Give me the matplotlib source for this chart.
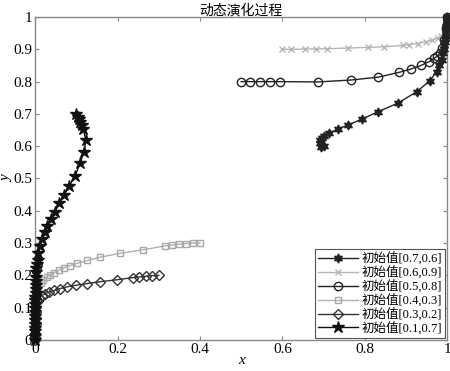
import numpy as np
import matplotlib
matplotlib.use("Agg")
import matplotlib.pyplot as plt

plt.rcParams['font.family'] = ['Liberation Serif', 'Noto Sans CJK SC']

# trajectories, (x, y) pairs
x_07 = [0.700, 0.694, 0.690, 0.692, 0.697, 0.702, 0.714, 0.734, 0.760, 0.793, 0.831, 0.881,
        0.926, 0.958, 0.974, 0.981, 0.986, 0.989, 0.991, 0.993, 0.994, 0.995, 0.996, 0.997,
        0.997, 0.998, 0.998, 0.999, 0.999, 0.999, 1.0, 1.0, 1.0]
y_07 = [0.600, 0.598, 0.609, 0.619, 0.626, 0.632, 0.640, 0.653, 0.666, 0.684, 0.706, 0.734,
        0.769, 0.803, 0.831, 0.851, 0.867, 0.888, 0.900, 0.912, 0.922, 0.932, 0.942, 0.951,
        0.959, 0.966, 0.972, 0.978, 0.984, 0.989, 0.993, 0.997, 1.0]

x_06 = [0.600, 0.621, 0.654, 0.682, 0.708, 0.759, 0.807, 0.847, 0.892, 0.908, 0.928, 0.948,
        0.964, 0.977, 0.985, 0.991, 0.995, 0.998, 1.0]
y_06 = [0.900, 0.900, 0.901, 0.901, 0.902, 0.904, 0.906, 0.908, 0.912, 0.915, 0.918, 0.924,
        0.929, 0.935, 0.941, 0.955, 0.970, 0.988, 1.0]

x_05 = [0.500, 0.521, 0.545, 0.569, 0.593, 0.686, 0.767, 0.833, 0.884, 0.912, 0.936, 0.956,
        0.968, 0.976, 0.982, 0.988, 0.993, 0.997, 1.0]
y_05 = [0.800, 0.800, 0.800, 0.800, 0.800, 0.799, 0.805, 0.814, 0.829, 0.839, 0.850, 0.862,
        0.872, 0.879, 0.888, 0.905, 0.930, 0.965, 1.0]

x_04 = [0.400, 0.382, 0.365, 0.348, 0.331, 0.315, 0.262, 0.207, 0.157, 0.127, 0.102, 0.085,
        0.070, 0.057, 0.046, 0.036, 0.028, 0.020, 0.014, 0.008, 0.004, 0.003, 0.002, 0.002,
        0.001, 0.001, 0.0, 0.0, 0.0, 0.0]
y_04 = [0.300, 0.300, 0.298, 0.296, 0.294, 0.291, 0.279, 0.268, 0.256, 0.246, 0.237, 0.230,
        0.223, 0.216, 0.208, 0.201, 0.194, 0.186, 0.176, 0.165, 0.150, 0.135, 0.120, 0.100,
        0.080, 0.060, 0.040, 0.025, 0.010, 0.0]

x_03 = [0.300, 0.284, 0.268, 0.253, 0.238, 0.198, 0.157, 0.125, 0.099, 0.077, 0.061, 0.046,
        0.034, 0.024, 0.016, 0.010, 0.006, 0.003, 0.002, 0.001, 0.001, 0.0, 0.0, 0.0, 0.0]
y_03 = [0.200, 0.199, 0.197, 0.195, 0.193, 0.186, 0.180, 0.174, 0.169, 0.164, 0.159, 0.153,
        0.148, 0.143, 0.137, 0.130, 0.119, 0.103, 0.085, 0.068, 0.050, 0.035, 0.020, 0.008, 0.0]

x_01 = [0.099, 0.103, 0.106, 0.109, 0.113, 0.117, 0.123, 0.119, 0.109, 0.097, 0.083, 0.070,
        0.059, 0.048, 0.038, 0.030, 0.023, 0.017, 0.012, 0.008, 0.006, 0.004, 0.003, 0.002,
        0.002, 0.001, 0.001, 0.001, 0.001, 0.0, 0.0, 0.0, 0.0, 0.0, 0.0, 0.0, 0.0, 0.0,
        0.0, 0.0, 0.0]
y_01 = [0.700, 0.691, 0.683, 0.675, 0.665, 0.654, 0.619, 0.583, 0.547, 0.508, 0.477, 0.449,
        0.423, 0.397, 0.375, 0.354, 0.333, 0.313, 0.292, 0.270, 0.248, 0.235, 0.222, 0.209,
        0.196, 0.183, 0.170, 0.158, 0.146, 0.134, 0.122, 0.110, 0.098, 0.086, 0.074, 0.062,
        0.050, 0.038, 0.026, 0.013, 0.0]

labels = ['初始值[0.7,0.6]', '初始值[0.6,0.9]', '初始值[0.5,0.8]',
          '初始值[0.4,0.3]', '初始值[0.3,0.2]', '初始值[0.1,0.7]']

fig = plt.figure(figsize=(4.5, 3.71), dpi=100)
ax = fig.add_axes([0.078, 0.084, 0.916, 0.870])

ax.plot(x_07, y_07, color='#222222', lw=1.0, marker=(6, 1, 0), ms=6.5,
        mfc='#222222', mec='#222222', label=labels[0], clip_on=False, zorder=4)
ax.plot(x_06, y_06, color='#b5b5b5', lw=1.0, marker='x', ms=4.5,
        mew=1.0, label=labels[1], clip_on=False, zorder=3)
ax.plot(x_05, y_05, color='#222222', lw=1.0, marker='o', ms=6,
        mfc='none', mec='#222222', label=labels[2], clip_on=False, zorder=3)
ax.plot(x_04, y_04, color='#b0b0b0', lw=1.0, marker='s', ms=4.5,
        mfc='none', mec='#a8a8a8', label=labels[3], clip_on=False, zorder=3)
ax.plot(x_03, y_03, color='#333333', lw=1.0, marker='D', ms=5.5,
        mfc='none', mec='#333333', label=labels[4], clip_on=False, zorder=3)
ax.plot(x_01, y_01, color='#111111', lw=1.0, marker='*', ms=9,
        mfc='#111111', mec='#111111', label=labels[5], clip_on=False, zorder=4)

ax.set_xlim(0, 1)
ax.set_ylim(0, 1)
ax.set_xticks([0, 0.2, 0.4, 0.6, 0.8, 1])
ax.set_xticklabels(['0', '0.2', '0.4', '0.6', '0.8', '1'])
ax.set_yticks(np.arange(0, 1.01, 0.1))
ax.set_yticklabels(['0', '0.1', '0.2', '0.3', '0.4', '0.5', '0.6', '0.7', '0.8', '0.9', '1'])
ax.tick_params(direction='in', top=True, right=True, length=3, width=0.8,
               color='#888888', labelsize=11, pad=2)
for s in ax.spines.values():
    s.set_color('#888888')
    s.set_linewidth(1.0)

ax.set_xlabel('x', fontstyle='italic', fontsize=11, labelpad=-1)
ax.set_ylabel('y', fontstyle='italic', fontsize=11, labelpad=0)
ax.set_title('动态演化过程', fontsize=10, pad=2, family=['Noto Sans CJK SC'])

leg = ax.legend(loc='lower right', fontsize=9, handlelength=3.2, handletextpad=0.3,
                labelspacing=0.05, borderpad=0.25, borderaxespad=0.15,
                fancybox=False, framealpha=1)
leg.get_frame().set_edgecolor('#555555')
leg.get_frame().set_linewidth(0.8)
leg.set_zorder(5)

fig.savefig('out.png', dpi=100)
